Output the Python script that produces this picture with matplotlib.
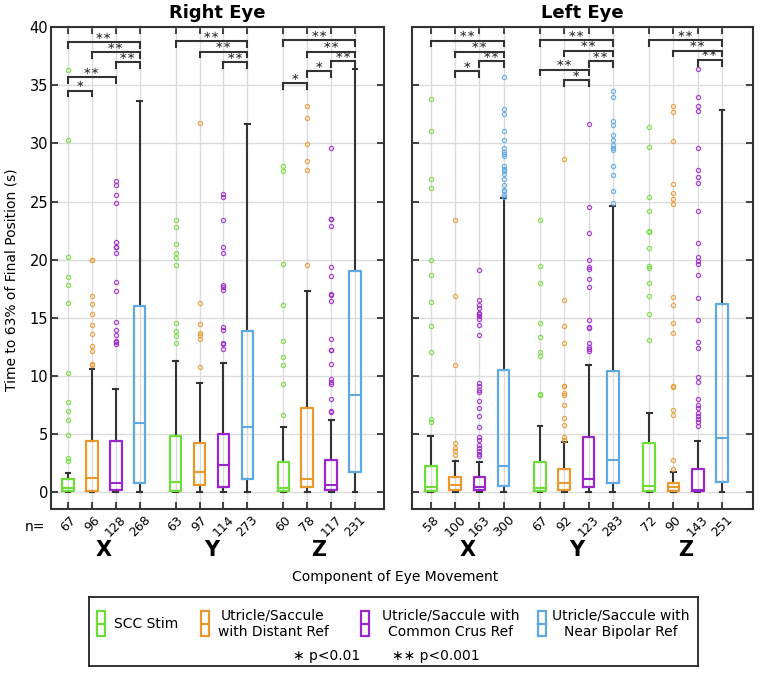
import matplotlib
matplotlib.use('Agg')
import matplotlib.pyplot as plt
import matplotlib.transforms as mtransforms
from matplotlib.patches import Rectangle
from matplotlib.lines import Line2D

plt.rcParams['font.family'] = ['DejaVu Sans']

# ---------------- data ----------------
components = ['X', 'Y', 'Z']
groups = ['SCC Stim', 'Utricle/Saccule\nwith Distant Ref',
          'Utricle/Saccule with\nCommon Crus Ref', 'Utricle/Saccule with\nNear Bipolar Ref']
colors = ['#6fdc3a', '#e8992e', '#9a27c9', '#5fa8e0']
eyes = ['Right Eye', 'Left Eye']

# Right eye (order: X[g1..g4], Y[g1..g4], Z[g1..g4])
right_n = [67, 96, 128, 268, 63, 97, 114, 273, 60, 78, 117, 231]
right_whislo = [0, 0, 0, 0, 0, 0, 0, 0, 0, 0, 0, 0]
right_q1 = [0.05, 0.1, 0.15, 0.75, 0.05, 0.6, 0.43, 1.15, 0.05, 0.43, 0.15, 1.67]
right_med = [0.3, 1.2, 0.8, 5.9, 0.85, 1.72, 2.3, 5.6, 0.35, 1.1, 0.55, 8.3]
right_q3 = [1.1, 4.4, 4.35, 16.0, 4.8, 4.25, 5.0, 13.85, 2.53, 7.2, 2.73, 19.0]
right_whishi = [1.65, 10.55, 8.9, 33.65, 11.3, 9.4, 11.07, 31.7, 5.55, 17.3, 6.15, 36.45]
right_fliers = [
    [2.65, 2.9, 4.9, 6.2, 7.0, 7.7, 10.2, 16.3, 17.8, 18.5, 20.2, 30.3, 36.3],
    [10.9, 11.0, 12.1, 12.6, 13.6, 14.4, 15.3, 16.2, 16.9, 20.0, 20.0],
    [12.7, 12.9, 13.0, 13.5, 13.9, 14.6, 17.3, 18.1, 20.6, 21.1, 21.1, 21.5, 24.9, 25.6, 26.4, 26.8],
    [],
    [12.8, 13.4, 13.85, 14.5, 19.55, 20.1, 20.55, 21.35, 22.8, 23.45],
    [10.75, 13.2, 13.5, 13.7, 14.45, 16.3, 31.8],
    [12.3, 12.7, 12.85, 13.9, 14.2, 17.4, 17.6, 17.85, 20.55, 21.1, 23.4, 25.35, 25.65],
    [],
    [6.6, 9.26, 10.9, 11.6, 13.0, 16.07, 19.6, 27.6, 28.05],
    [19.5, 27.7, 28.45, 29.95, 32.2, 33.25],
    [6.85, 7.0, 8.0, 9.3, 9.5, 9.7, 11.0, 12.25, 12.25, 13.2, 16.45, 16.95, 17.0, 18.6,
     19.35, 22.85, 23.5, 23.5, 29.6],
    [],
]
# significance brackets: (box i, box j, height, label)
right_sig = [(0, 3, 38.74, '**'), (1, 3, 37.85, '**'), (2, 3, 36.98, '**'),
             (0, 2, 35.7, '**'), (0, 1, 34.55, '*'),
             (4, 7, 38.8, '**'), (5, 7, 37.9, '**'), (6, 7, 37.0, '**'),
             (8, 11, 38.9, '**'), (9, 11, 37.9, '**'), (10, 11, 37.1, '**'),
             (9, 10, 36.2, '*'), (8, 9, 35.2, '*')]

# Left eye
left_n = [58, 100, 163, 300, 67, 92, 123, 283, 72, 90, 143, 251]
left_whislo = [0, 0, 0, 0, 0, 0, 0, 0, 0, 0, 0, 0]
left_q1 = [0.05, 0.2, 0.15, 0.5, 0.05, 0.15, 0.43, 0.78, 0.05, 0.1, 0.05, 0.86]
left_med = [0.38, 0.6, 0.45, 2.2, 0.3, 0.78, 1.07, 2.73, 0.52, 0.43, 0.2, 4.66]
left_q3 = [2.24, 1.24, 1.24, 10.5, 2.53, 1.93, 4.7, 10.4, 4.17, 0.78, 2.0, 16.15]
left_whishi = [4.83, 2.67, 2.53, 25.26, 5.7, 4.26, 10.9, 24.65, 6.78, 1.72, 4.4, 32.9]
left_fliers = [
    [5.98, 6.3, 12.07, 14.3, 16.35, 18.68, 19.97, 26.15, 26.96, 31.1, 33.8],
    [3.2, 3.5, 3.8, 4.2, 10.9, 16.9, 23.4],
    [3.1, 3.3, 3.5, 3.75, 4.0, 4.5, 4.7, 5.6, 6.5, 7.2, 7.8, 8.6, 8.8, 9.15, 9.35, 13.5,
     14.4, 14.85, 15.17, 15.3, 15.4, 15.8, 16.07, 16.5, 19.1],
    [25.4, 25.6, 25.9, 26.0, 26.4, 26.9, 27.4, 27.6, 27.8, 28.1, 28.9, 29.1, 29.3, 29.6,
     30.3, 31.1, 32.5, 33.0, 35.7],
    [8.33, 8.45, 11.7, 12.07, 13.36, 14.5, 17.96, 19.46, 23.45],
    [4.5, 4.7, 5.8, 6.4, 7.45, 8.3, 8.5, 9.1, 9.1, 12.8, 14.3, 16.55, 28.7],
    [12.13, 12.3, 12.5, 12.8, 14.1, 14.2, 14.8, 17.6, 18.3, 19.2, 19.35, 20.0, 22.3, 24.5, 31.7],
    [24.9, 25.9, 27.3, 28.1, 29.4, 29.6, 29.9, 30.3, 30.7, 31.6, 31.9, 34.0, 34.5],
    [13.1, 15.3, 16.9, 17.96, 19.26, 19.46, 20.98, 22.36, 22.5, 24.17, 25.35, 29.7, 31.4],
    [2.0, 2.73, 6.6, 7.05, 9.0, 9.15, 13.7, 14.57, 16.07, 16.8, 24.8, 25.2, 25.75, 26.5,
     30.2, 32.75, 33.2],
    [5.7, 6.0, 6.3, 6.5, 6.75, 7.2, 7.5, 8.0, 9.43, 9.9, 12.4, 12.9, 14.8, 16.7, 18.7,
     19.6, 19.9, 20.2, 21.4, 24.2, 26.6, 27.07, 27.7, 29.6, 32.8, 33.2, 34.0, 36.4],
    [],
]
left_sig = [(0, 3, 38.85, '**'), (1, 3, 37.9, '**'), (2, 3, 37.07, '**'), (1, 2, 36.2, '*'),
            (4, 7, 38.9, '**'), (5, 7, 38.0, '**'), (6, 7, 37.1, '**'),
            (4, 6, 36.35, '**'), (5, 6, 35.47, '*'),
            (8, 11, 38.9, '**'), (9, 11, 38.0, '**'), (10, 11, 37.2, '**')]

y_ticks = [0, 5, 10, 15, 20, 25, 30, 35, 40]

# ---------------- layout ----------------
W, H = 760, 673
fig = plt.figure(figsize=(W / 100, H / 100), dpi=100)

positions = []
for gi in range(3):
    for k in range(4):
        positions.append(gi * 4.5 + k)

dark = '#333333'
grid_c = '#dcdcdc'


def draw_panel(ax, title, n, wlo, q1, med, q3, whi, fliers, sig, xlim, show_ylabels):
    stats = []
    for i in range(len(n)):
        stats.append(dict(whislo=wlo[i], q1=q1[i], med=med[i], q3=q3[i],
                          whishi=whi[i], fliers=fliers[i], label=str(n[i])))
    res = ax.bxp(stats, positions=positions, widths=0.48, capwidths=0.2,
                 showfliers=True, manage_ticks=False,
                 boxprops=dict(linewidth=1.6),
                 whiskerprops=dict(color=dark, linewidth=1.5),
                 capprops=dict(color=dark, linewidth=1.5),
                 medianprops=dict(linewidth=1.5),
                 flierprops=dict(marker='o', markersize=3.0, markerfacecolor='none',
                                 markeredgewidth=0.9, linestyle='none'))
    for i in range(len(n)):
        c = colors[i % 4]
        res['boxes'][i].set_color(c)
        res['medians'][i].set_color(c)
        res['fliers'][i].set_markeredgecolor(c)
        res['fliers'][i].set_alpha(0.85)
        res['boxes'][i].set_zorder(3)
        res['medians'][i].set_zorder(3)
    # significance brackets
    for (i, j, h, lab) in sig:
        x0, x1 = positions[i], positions[j]
        ax.plot([x0, x0, x1, x1], [h - 0.5, h, h, h - 0.5], color=dark, lw=1.5,
                solid_joinstyle='miter', zorder=4)
        txt = '\u2217\u2217' if lab == '**' else '\u2217'
        ax.text((x0 + x1) / 2, h + 0.55, txt, ha='center', va='center',
                fontsize=7.5, color=dark, zorder=4)

    ax.set_xlim(*xlim)
    ax.set_ylim(-1.5, 40)
    ax.set_yticks(y_ticks)
    ax.set_xticks(positions)
    ax.set_xticklabels([str(v) for v in n], rotation=45, fontsize=9)
    if not show_ylabels:
        ax.set_yticklabels([])
    else:
        ax.set_yticklabels([str(v) for v in y_ticks], fontsize=10.5)
    ax.set_axisbelow(True)
    ax.grid(True, color=grid_c, linewidth=1.0)
    ax.tick_params(direction='in', top=True, right=True, length=5, width=1.3,
                   color=dark)
    ax.tick_params(axis='x', pad=3)
    ax.tick_params(axis='y', pad=2)
    for s in ax.spines.values():
        s.set_linewidth(1.5)
        s.set_color(dark)
    ax.set_title(title, fontsize=13, fontweight='bold', pad=7)
    trans = mtransforms.blended_transform_factory(ax.transData, ax.transAxes)
    for gi, comp in enumerate(components):
        cx = (positions[gi * 4] + positions[gi * 4 + 3]) / 2
        ax.text(cx, -0.085, comp, transform=trans, ha='center', va='center',
                fontsize=15, fontweight='bold')


axL = fig.add_axes([51 / W, 1 - 509.3 / H, 333 / W, 482 / H])
axR = fig.add_axes([412 / W, 1 - 509.3 / H, 341 / W, 482 / H])

draw_panel(axL, eyes[0], right_n, right_whislo, right_q1, right_med, right_q3,
           right_whishi, right_fliers, right_sig, (-0.71, 13.21), True)
draw_panel(axR, eyes[1], left_n, left_whislo, left_q1, left_med, left_q3,
           left_whishi, left_fliers, left_sig, (-0.78, 13.28), False)

axL.set_ylabel('Time to 63% of Final Position (s)', fontsize=10)
axL.yaxis.set_label_coords(-0.099, 0.476)

fig.text(35 / W, 1 - 527 / H, 'n=', fontsize=10, ha='center', va='center')
fig.text(395 / W, 1 - 577 / H, 'Component of Eye Movement', fontsize=10,
         ha='center', va='center')

# ---------------- legend ----------------
lx0, ly0, lw, lh = 89, 597, 609, 69
lax = fig.add_axes([lx0 / W, 1 - (ly0 + lh) / H, lw / W, lh / H])
lax.set_xlim(0, lw)
lax.set_ylim(lh, 0)
lax.set_xticks([])
lax.set_yticks([])
for s in lax.spines.values():
    s.set_linewidth(1.3)
    s.set_color('#222222')

glyph_x = [8, 112, 272, 449]
text_x = [25, 184, 362, 532]
text_ha = ['left', 'center', 'center', 'center']
for k in range(4):
    c = colors[k]
    lax.add_patch(Rectangle((glyph_x[k], 14), 8, 25, fill=False, ec=c, lw=1.6))
    lax.add_line(Line2D([glyph_x[k], glyph_x[k] + 8], [26.5, 26.5], color=c, lw=1.6))
    lax.text(text_x[k], 27, groups[k], ha=text_ha[k], va='center', fontsize=10,
             linespacing=1.25)
lax.text(238, 59, '\u2217 p<0.01', ha='center', va='center', fontsize=10)
lax.text(347, 59, '\u2217\u2217 p<0.001', ha='center', va='center', fontsize=10)

fig.savefig('out.png', dpi=100)
